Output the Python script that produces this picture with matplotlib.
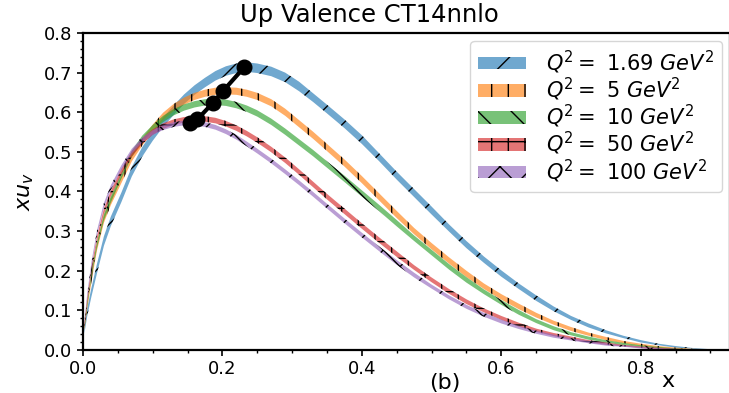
import matplotlib
matplotlib.use("Agg")
import matplotlib.pyplot as plt
from matplotlib.colors import to_rgba
from matplotlib.ticker import AutoMinorLocator, MultipleLocator

# x grid shared by all curves
x = [0.002, 0.006, 0.012, 0.02, 0.03, 0.04, 0.055, 0.07, 0.085, 0.1,
     0.115, 0.13, 0.145, 0.16, 0.175, 0.19, 0.205, 0.22, 0.235, 0.25,
     0.27, 0.29, 0.31, 0.33, 0.35, 0.375, 0.4, 0.425, 0.45, 0.475,
     0.5, 0.525, 0.55, 0.575, 0.6, 0.625, 0.65, 0.675, 0.7, 0.725,
     0.75, 0.775, 0.8, 0.825, 0.85, 0.875, 0.9]

# central values x*u_v
xuv_169 = [0.05, 0.095, 0.145, 0.205, 0.275, 0.325, 0.385, 0.45, 0.50, 0.54,
           0.575, 0.605, 0.633, 0.656, 0.675, 0.692, 0.704, 0.711, 0.714, 0.711,
           0.703, 0.688, 0.665, 0.637, 0.608, 0.571, 0.531, 0.486, 0.440, 0.396,
           0.352, 0.308, 0.266, 0.228, 0.193, 0.161, 0.131, 0.104, 0.081, 0.062,
           0.046, 0.033, 0.022, 0.014, 0.008, 0.004, 0.001]
xuv_5 = [0.055, 0.11, 0.18, 0.26, 0.33, 0.375, 0.43, 0.485, 0.525, 0.56,
         0.59, 0.612, 0.628, 0.640, 0.648, 0.653, 0.654, 0.653, 0.648, 0.640,
         0.624, 0.600, 0.571, 0.542, 0.511, 0.472, 0.430, 0.386, 0.342, 0.300,
         0.262, 0.226, 0.192, 0.161, 0.134, 0.110, 0.088, 0.069, 0.053, 0.040,
         0.029, 0.020, 0.013, 0.008, 0.004, 0.002, 0.001]
xuv_10 = [0.058, 0.115, 0.19, 0.265, 0.335, 0.38, 0.44, 0.495, 0.533, 0.56,
          0.583, 0.600, 0.612, 0.620, 0.625, 0.626, 0.624, 0.618, 0.609, 0.597,
          0.576, 0.551, 0.524, 0.497, 0.468, 0.432, 0.395, 0.358, 0.320, 0.282,
          0.246, 0.210, 0.177, 0.147, 0.120, 0.095, 0.073, 0.055, 0.041, 0.030,
          0.022, 0.015, 0.010, 0.006, 0.003, 0.001, 0.0]
xuv_50 = [0.06, 0.125, 0.2, 0.28, 0.35, 0.395, 0.45, 0.495, 0.527, 0.550,
          0.565, 0.575, 0.581, 0.583, 0.583, 0.579, 0.571, 0.560, 0.546, 0.530,
          0.506, 0.479, 0.449, 0.418, 0.387, 0.350, 0.313, 0.277, 0.242, 0.208,
          0.177, 0.148, 0.122, 0.100, 0.081, 0.064, 0.050, 0.039, 0.030, 0.022,
          0.016, 0.011, 0.007, 0.004, 0.002, 0.001, 0.0]
xuv_100 = [0.065, 0.135, 0.215, 0.295, 0.365, 0.41, 0.46, 0.502, 0.53, 0.549,
           0.561, 0.569, 0.573, 0.573, 0.569, 0.562, 0.551, 0.537, 0.520, 0.502,
           0.477, 0.450, 0.422, 0.393, 0.363, 0.326, 0.290, 0.255, 0.221, 0.189,
           0.160, 0.133, 0.109, 0.089, 0.072, 0.057, 0.045, 0.035, 0.027, 0.020,
           0.014, 0.010, 0.006, 0.003, 0.002, 0.001, 0.0]

# half widths of the error bands
err_169 = [0.008, 0.010, 0.011, 0.012, 0.012, 0.012, 0.012, 0.012, 0.012, 0.012,
           0.012, 0.012, 0.012, 0.012, 0.012, 0.012, 0.012, 0.012, 0.012, 0.012,
           0.012, 0.012, 0.012, 0.011, 0.011, 0.011, 0.011, 0.010, 0.010, 0.010,
           0.010, 0.009, 0.009, 0.008, 0.008, 0.007, 0.007, 0.006, 0.005, 0.005,
           0.004, 0.003, 0.003, 0.002, 0.002, 0.001, 0.001]
err_5 = [0.006, 0.007, 0.009, 0.009, 0.009, 0.009, 0.009, 0.009, 0.009, 0.009,
         0.009, 0.009, 0.009, 0.009, 0.009, 0.009, 0.009, 0.009, 0.009, 0.009,
         0.009, 0.009, 0.009, 0.009, 0.009, 0.009, 0.009, 0.009, 0.009, 0.008,
         0.008, 0.008, 0.008, 0.007, 0.007, 0.007, 0.006, 0.005, 0.005, 0.004,
         0.004, 0.003, 0.003, 0.002, 0.002, 0.001, 0.001]
err_10 = [0.006, 0.007, 0.008, 0.008, 0.008, 0.008, 0.008, 0.008, 0.008, 0.008,
          0.008, 0.008, 0.008, 0.008, 0.008, 0.008, 0.008, 0.008, 0.008, 0.008,
          0.008, 0.008, 0.008, 0.008, 0.008, 0.008, 0.008, 0.008, 0.008, 0.007,
          0.007, 0.007, 0.007, 0.006, 0.006, 0.006, 0.005, 0.005, 0.004, 0.004,
          0.003, 0.003, 0.002, 0.002, 0.001, 0.001, 0.001]
err_50 = [0.006, 0.007, 0.007, 0.007, 0.007, 0.007, 0.007, 0.007, 0.007, 0.007,
          0.007, 0.007, 0.007, 0.007, 0.007, 0.007, 0.007, 0.007, 0.007, 0.007,
          0.007, 0.007, 0.007, 0.007, 0.007, 0.007, 0.007, 0.007, 0.007, 0.006,
          0.006, 0.006, 0.006, 0.005, 0.005, 0.005, 0.004, 0.004, 0.004, 0.003,
          0.003, 0.002, 0.002, 0.002, 0.001, 0.001, 0.001]
err_100 = [0.005, 0.006, 0.006, 0.006, 0.006, 0.006, 0.006, 0.006, 0.006, 0.006,
           0.006, 0.006, 0.006, 0.006, 0.006, 0.006, 0.006, 0.006, 0.006, 0.006,
           0.006, 0.006, 0.006, 0.006, 0.006, 0.006, 0.006, 0.006, 0.006, 0.006,
           0.005, 0.005, 0.005, 0.005, 0.005, 0.004, 0.004, 0.004, 0.003, 0.003,
           0.003, 0.002, 0.002, 0.002, 0.001, 0.001, 0.001]

labels = ["$Q^2 =$ 1.69 $GeV^2$", "$Q^2 =$ 5 $GeV^2$", "$Q^2 =$ 10 $GeV^2$",
          "$Q^2 =$ 50 $GeV^2$", "$Q^2 =$ 100 $GeV^2$"]
hatches = ["/", "|", "\\", "+", "x"]
colors = ["C0", "C1", "C2", "C3", "C4"]

# peak positions joined by the black line
peak_x = [0.154, 0.164, 0.186, 0.201, 0.231]
peak_y = [0.573, 0.582, 0.623, 0.654, 0.713]

fig = plt.figure(figsize=(7.29, 3.93), dpi=100)
ax = fig.add_axes([83 / 729, 43 / 393, 647 / 729, 317 / 393])

curves = [xuv_169, xuv_5, xuv_10, xuv_50, xuv_100]
errs = [err_169, err_5, err_10, err_50, err_100]
for yc, er, lab, h, c in zip(curves, errs, labels, hatches, colors):
    lo = [v - e for v, e in zip(yc, er)]
    hi = [v + e for v, e in zip(yc, er)]
    ax.fill_between(x, lo, hi, facecolor=to_rgba(c, 0.64), edgecolor="k",
                    linewidth=0, hatch=h, label=lab)

ax.plot(peak_x, peak_y, "k-o", lw=3, ms=10.5)

ax.set_xlim(0, 0.928)
ax.set_ylim(0, 0.8)
ax.xaxis.set_major_locator(MultipleLocator(0.2))
ax.yaxis.set_major_locator(MultipleLocator(0.1))
ax.xaxis.set_minor_locator(AutoMinorLocator(4))
ax.yaxis.set_minor_locator(AutoMinorLocator(5))
ax.tick_params(which="major", labelsize=13, length=4, width=1.2)
ax.tick_params(which="minor", length=2.5, width=1)
for s in ax.spines.values():
    s.set_linewidth(1.6)

ax.set_ylabel("$xu_v$", fontsize=16, labelpad=6)
ax.legend(loc="upper right", fontsize=15, labelspacing=0.0,
          handlelength=2.3, handleheight=0.55, borderpad=0.35,
          borderaxespad=0.4, handletextpad=1.0)

fig.text(369 / 729, 1 - 15 / 393, "Up Valence CT14nnlo", fontsize=17.5,
         ha="center", va="center")
fig.text(445 / 729, 1 - 383 / 393, "(b)", fontsize=16, ha="center", va="center")
fig.text(668 / 729, 1 - 381 / 393, "x", fontsize=16, ha="center", va="center")

plt.savefig("out.png", dpi=100)
